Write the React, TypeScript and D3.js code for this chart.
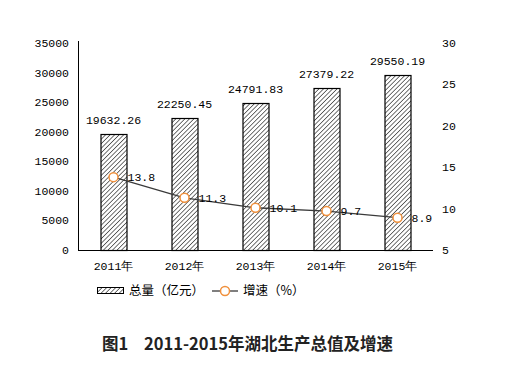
import { useEffect, useRef } from "react";
import * as d3 from "d3";

const years = ["2011年", "2012年", "2013年", "2014年", "2015年"];
const totals = [19632.26, 22250.45, 24791.83, 27379.22, 29550.19];
const growth = [13.8, 11.3, 10.1, 9.7, 8.9];
const leftTicks = [0, 5000, 10000, 15000, 20000, 25000, 30000, 35000];
const rightTicks = [5, 10, 15, 20, 25, 30];

const MONO = "'Liberation Mono', 'DejaVu Sans Mono', monospace";
const CJK = "'Noto Sans CJK SC', sans-serif";

export default function App() {
  const ref = useRef<SVGSVGElement>(null);

  useEffect(() => {
    const svg = d3.select(ref.current);
    svg.selectAll("*").remove();

    const left = 78, right = 433, top = 43, bottom = 250;

    const x = d3.scaleBand().domain(years).range([left, right]);
    const y = d3.scaleLinear().domain([0, 35000]).range([bottom, top]);
    const y2 = d3.scaleLinear().domain([5, 30]).range([bottom, top]);
    const cx = (i: number) => x(years[i])! + x.bandwidth() / 2;

    const defs = svg.append("defs");
    const pat = defs.append("pattern")
      .attr("id", "hatch")
      .attr("patternUnits", "userSpaceOnUse")
      .attr("width", 3.2)
      .attr("height", 3.2)
      .attr("patternTransform", "rotate(45)");
    pat.append("rect").attr("width", 3.2).attr("height", 3.2).attr("fill", "#fff");
    pat.append("line")
      .attr("x1", 0).attr("y1", 0).attr("x2", 0).attr("y2", 3.2)
      .attr("stroke", "#000").attr("stroke-width", 1.1);

    // left axis labels
    svg.append("g").selectAll("text")
      .data(leftTicks)
      .enter()
      .append("text")
      .attr("x", 69)
      .attr("y", d => y(d))
      .attr("dy", "0.35em")
      .attr("text-anchor", "end")
      .attr("font-family", MONO)
      .attr("font-size", 11.5)
      .text(d => d);

    // right axis labels
    svg.append("g").selectAll("text")
      .data(rightTicks)
      .enter()
      .append("text")
      .attr("x", 442)
      .attr("y", d => y2(d))
      .attr("dy", "0.35em")
      .attr("font-family", MONO)
      .attr("font-size", 11.5)
      .text(d => d);

    const bw = 26;
    svg.append("g").selectAll("rect")
      .data(totals)
      .enter()
      .append("rect")
      .attr("x", (d, i) => cx(i) - bw / 2 + 0.5)
      .attr("y", d => Math.round(y(d)) + 0.5)
      .attr("width", bw)
      .attr("height", d => bottom - Math.round(y(d)))
      .attr("fill", "url(#hatch)")
      .attr("stroke", "#000")
      .attr("stroke-width", 1.2);

    svg.append("g").selectAll("text")
      .data(totals)
      .enter()
      .append("text")
      .attr("x", (d, i) => cx(i))
      .attr("y", d => y(d) - 14)
      .attr("dy", "0.35em")
      .attr("text-anchor", "middle")
      .attr("font-family", MONO)
      .attr("font-size", 11.5)
      .text(d => d.toFixed(2));

    // axes lines
    svg.append("line")
      .attr("x1", left + 0.5).attr("x2", left + 0.5)
      .attr("y1", top - 2).attr("y2", bottom)
      .attr("stroke", "#000");
    svg.append("line")
      .attr("x1", left).attr("x2", right)
      .attr("y1", bottom + 0.5).attr("y2", bottom + 0.5)
      .attr("stroke", "#000");

    svg.append("g").selectAll("text")
      .data(years)
      .enter()
      .append("text")
      .attr("x", d => x(d)! + x.bandwidth() / 2)
      .attr("y", 266)
      .attr("dy", "0.35em")
      .attr("text-anchor", "middle")
      .attr("font-family", MONO)
      .attr("font-size", 11.5)
      .text(d => d);

    const line = d3.line<number>()
      .x((d, i) => cx(i))
      .y(d => y2(d));

    svg.append("path")
      .datum(growth)
      .attr("fill", "none")
      .attr("stroke", "#3a3a3a")
      .attr("stroke-width", 1.3)
      .attr("d", line);

    svg.append("g").selectAll("circle")
      .data(growth)
      .enter()
      .append("circle")
      .attr("cx", (d, i) => cx(i))
      .attr("cy", d => y2(d))
      .attr("r", 4.5)
      .attr("fill", "#fff")
      .attr("stroke", "#f0903c")
      .attr("stroke-width", 1.5);

    svg.append("g").selectAll("text")
      .data(growth)
      .enter()
      .append("text")
      .attr("x", (d, i) => cx(i) + 14)
      .attr("y", d => y2(d))
      .attr("dy", "0.35em")
      .attr("font-family", MONO)
      .attr("font-size", 11.5)
      .text(d => d);

    // legend
    const lg = svg.append("g");
    lg.append("rect")
      .attr("x", 97.5).attr("y", 287.5).attr("width", 26).attr("height", 6)
      .attr("fill", "url(#hatch)").attr("stroke", "#000");
    lg.append("text")
      .attr("x", 129).attr("y", 291).attr("dy", "0.35em")
      .attr("font-family", CJK).attr("font-size", 12.5)
      .text("总量（亿元）");
    lg.append("line")
      .attr("x1", 212).attr("x2", 238).attr("y1", 291).attr("y2", 291)
      .attr("stroke", "#3a3a3a").attr("stroke-width", 1.3);
    lg.append("circle")
      .attr("cx", 225).attr("cy", 291).attr("r", 4.5)
      .attr("fill", "#fff").attr("stroke", "#f0903c").attr("stroke-width", 1.5);
    lg.append("text")
      .attr("x", 243).attr("y", 291).attr("dy", "0.35em")
      .attr("font-family", CJK).attr("font-size", 12.5)
      .text("增速（%）");

    svg.append("text")
      .attr("x", 102).attr("y", 344).attr("dy", "0.35em")
      .attr("font-family", CJK).attr("font-size", 16.5).attr("font-weight", "bold")
      .attr("fill", "#222")
      .text("图1");
    svg.append("text")
      .attr("x", 144).attr("y", 344).attr("dy", "0.35em")
      .attr("font-family", CJK).attr("font-size", 16.5).attr("font-weight", "bold")
      .attr("fill", "#222")
      .text("2011-2015年湖北生产总值及增速");
  }, []);

  return (
    <svg
      ref={ref}
      width={515}
      height={369}
      style={{ position: "absolute", left: 0, top: 0, background: "#fff" }}
    ></svg>
  );
}
